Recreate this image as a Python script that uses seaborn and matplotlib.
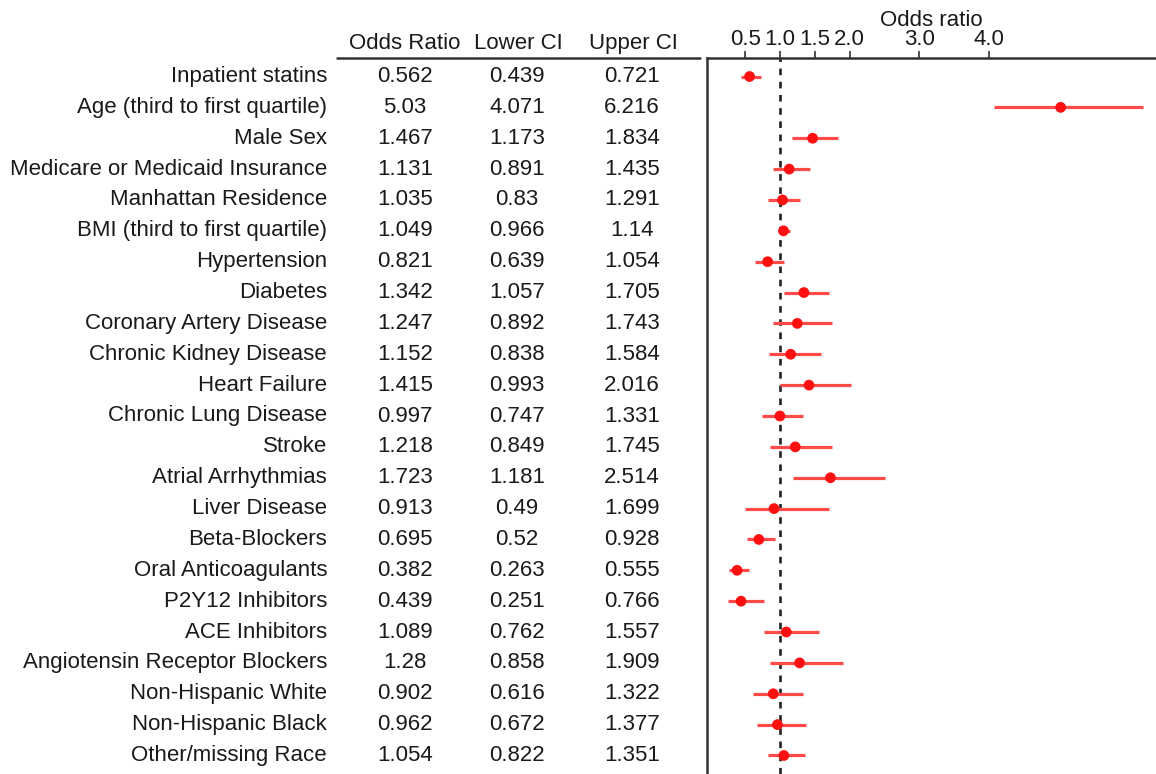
import matplotlib
matplotlib.use("Agg")
import matplotlib.pyplot as plt
import numpy as np
import pandas as pd
import seaborn as sns

labels = ["Inpatient statins", "Age (third to first quartile)", "Male Sex",
          "Medicare or Medicaid Insurance", "Manhattan Residence",
          "BMI (third to first quartile)", "Hypertension", "Diabetes",
          "Coronary Artery Disease", "Chronic Kidney Disease", "Heart Failure",
          "Chronic Lung Disease", "Stroke", "Atrial Arrhythmias", "Liver Disease",
          "Beta-Blockers", "Oral Anticoagulants", "P2Y12 Inhibitors",
          "ACE Inhibitors", "Angiotensin Receptor Blockers", "Non-Hispanic White",
          "Non-Hispanic Black", "Other/missing Race"]
odds = [0.562, 5.03, 1.467, 1.131, 1.035, 1.049, 0.821, 1.342, 1.247, 1.152,
        1.415, 0.997, 1.218, 1.723, 0.913, 0.695, 0.382, 0.439, 1.089, 1.28,
        0.902, 0.962, 1.054]
lower = [0.439, 4.071, 1.173, 0.891, 0.83, 0.966, 0.639, 1.057, 0.892, 0.838,
         0.993, 0.747, 0.849, 1.181, 0.49, 0.52, 0.263, 0.251, 0.762, 0.858,
         0.616, 0.672, 0.822]
upper = [0.721, 6.216, 1.834, 1.435, 1.291, 1.14, 1.054, 1.705, 1.743, 1.584,
         2.016, 1.331, 1.745, 2.514, 1.699, 0.928, 0.555, 0.766, 1.557, 1.909,
         1.322, 1.377, 1.351]
xticks = [0.5, 1.0, 1.5, 2.0, 3.0, 4.0]

# table cells keep the original string formatting
odds_txt = ["0.562", "5.03", "1.467", "1.131", "1.035", "1.049", "0.821", "1.342",
            "1.247", "1.152", "1.415", "0.997", "1.218", "1.723", "0.913", "0.695",
            "0.382", "0.439", "1.089", "1.28", "0.902", "0.962", "1.054"]
lower_txt = ["0.439", "4.071", "1.173", "0.891", "0.83", "0.966", "0.639", "1.057",
             "0.892", "0.838", "0.993", "0.747", "0.849", "1.181", "0.49", "0.52",
             "0.263", "0.251", "0.762", "0.858", "0.616", "0.672", "0.822"]
upper_txt = ["0.721", "6.216", "1.834", "1.435", "1.291", "1.14", "1.054", "1.705",
             "1.743", "1.584", "2.016", "1.331", "1.745", "2.514", "1.699", "0.928",
             "0.555", "0.766", "1.557", "1.909", "1.322", "1.377", "1.351"]

df = pd.DataFrame({"label": labels, "odds": odds, "lower": lower, "upper": upper})
df["row"] = np.arange(len(df))

sns.set_theme(style="white")
plt.rcParams["font.family"] = ["Liberation Sans", "DejaVu Sans"]

W, H = 1156, 774
fig = plt.figure(figsize=(W / 100, H / 100), dpi=100)

ylim = (22.6, -0.6)
fs = 16
ink = "#1a1a1a"

# forest plot axes
ax = fig.add_axes([707 / W, 0, (1156 - 707) / W, (774 - 58) / H])
ax.hlines(df["row"], df["lower"], df["upper"], color="#ff4a4a", lw=2.3, zorder=2)
sns.scatterplot(data=df, x="odds", y="row", ax=ax, color="#ff1010", s=60,
                edgecolor="none", zorder=3, legend=False)
ax.axvline(1.0, color="#222222", ls=(0, (2.5, 2.5)), lw=1.9, zorder=1)
ax.set_xlim(-0.05, 6.4)
ax.set_ylim(*ylim)
ax.set_yticks([])
ax.set_ylabel("")
ax.xaxis.set_ticks_position("top")
ax.xaxis.set_label_position("top")
ax.set_xticks(xticks)
ax.set_xticklabels([f"{t:.1f}" for t in xticks], fontsize=fs, color=ink)
ax.tick_params(axis="x", direction="out", length=5, width=1.2, pad=1,
               colors="#333333", labelcolor=ink, top=True, bottom=False)
ax.set_xlabel("Odds ratio", fontsize=fs, color=ink, labelpad=2)
for side in ["bottom", "right"]:
    ax.spines[side].set_visible(False)
for side in ["top", "left"]:
    ax.spines[side].set_color("#333333")
    ax.spines[side].set_linewidth(1.8)

# table axes on the left
tab = fig.add_axes([0, 0, 707 / W, (774 - 58) / H])
tab.set_xlim(0, 707)
tab.set_ylim(*ylim)
tab.axis("off")
for i in range(len(labels)):
    tab.text(327, i, labels[i], ha="right", va="center", fontsize=fs, color=ink)
    tab.text(405, i, odds_txt[i], ha="center", va="center", fontsize=fs, color=ink)
    tab.text(517, i, lower_txt[i], ha="center", va="center", fontsize=fs, color=ink)
    tab.text(632, i, upper_txt[i], ha="center", va="center", fontsize=fs, color=ink)

# column headers share one baseline
hy = 1 - 49 / H
fig.text(405 / W, hy, "Odds Ratio", ha="center", va="baseline", fontsize=fs, color=ink)
fig.text(518 / W, hy, "Lower CI", ha="center", va="baseline", fontsize=fs, color=ink)
fig.text(633 / W, hy, "Upper CI", ha="center", va="baseline", fontsize=fs, color=ink)
fig.add_artist(plt.Line2D([337 / W, 700 / W], [1 - 58 / H, 1 - 58 / H],
                          color="#333333", lw=1.8))

fig.savefig("out.png", dpi=100, facecolor="white")
